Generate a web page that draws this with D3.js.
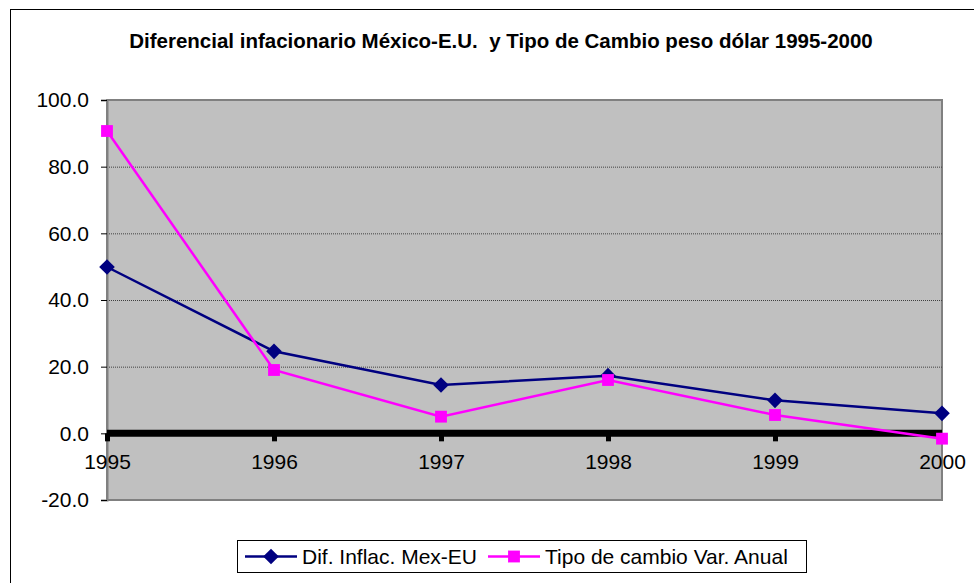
<!DOCTYPE html>
<html>
<head>
<meta charset="utf-8">
<script src="https://cdn.jsdelivr.net/npm/d3@7"></script>
<style>
  body { margin: 0; background: #fff; }
  text { font-family: "Liberation Sans", Arial, sans-serif; white-space: pre; }
</style>
</head>
<body>
<svg id="chart" width="974" height="583"></svg>
<script>
let years = ["1995", "1996", "1997", "1998", "1999", "2000"];
let difInflac = [49.9, 24.6, 14.5, 17.3, 9.9, 6.0];
let tipoCambio = [90.7, 19.0, 5.0, 16.0, 5.5, -1.6];
let yTicks = [-20, 0, 20, 40, 60, 80, 100];

let svg = d3.select("#chart"),
    width = +svg.attr("width"),
    height = +svg.attr("height");

let plot = { left: 107, right: 942, top: 100, bottom: 500 };

// outer frame, cut off on the right and bottom like the original
svg.append("rect")
    .attr("x", 10.5).attr("y", 9.5)
    .attr("width", 1000).attr("height", 600)
    .attr("fill", "#fff").attr("stroke", "#000").attr("stroke-width", 1);

svg.append("text")
    .attr("x", 501).attr("y", 48)
    .attr("text-anchor", "middle")
    .attr("font-size", 20.5).attr("font-weight", "bold")
    .text("Diferencial infacionario México-E.U.  y Tipo de Cambio peso dólar 1995-2000");

let x = d3.scalePoint().domain(years).range([plot.left, plot.right]);
let y = d3.scaleLinear().domain([-20, 100]).range([plot.bottom, plot.top]);

svg.append("rect")
    .attr("x", plot.left).attr("y", plot.top)
    .attr("width", plot.right - plot.left).attr("height", plot.bottom - plot.top)
    .attr("fill", "#c0c0c0").attr("stroke", "#808080").attr("stroke-width", 2);

// dotted gridlines
svg.append("g").selectAll("line")
  .data(yTicks.filter(function(d) { return d !== -20 && d !== 0 && d !== 100; }))
  .enter().append("line")
    .attr("x1", plot.left).attr("x2", plot.right)
    .attr("y1", function(d) { return y(d) + 0.5; })
    .attr("y2", function(d) { return y(d) + 0.5; })
    .attr("stroke", "#404040").attr("stroke-width", 1)
    .attr("stroke-dasharray", "1,1");

// y axis (plain hyphen for negatives, like the original)
let yAxis = svg.append("g")
    .attr("transform", "translate(" + plot.left + ",0)")
    .call(d3.axisLeft(y).tickValues(yTicks)
      .tickFormat(function(d) { return d.toFixed(1); })
      .tickSize(6).tickPadding(12));
yAxis.select(".domain").attr("stroke", "#808080").attr("stroke-width", 2);
yAxis.selectAll(".tick line").attr("stroke", "#000");
yAxis.selectAll(".tick text").attr("font-size", 21).attr("fill", "#000")
    .attr("font-family", "'Liberation Sans', Arial, sans-serif");

// zero line with x axis
let xAxis = svg.append("g")
    .attr("transform", "translate(0," + y(0) + ")")
    .call(d3.axisBottom(x).tickSize(8).tickPadding(13));
xAxis.select(".domain").remove();
xAxis.selectAll(".tick line").attr("stroke", "#000").attr("stroke-width", 5);
xAxis.selectAll(".tick text").attr("font-size", 21).attr("fill", "#000")
    .attr("font-family", "'Liberation Sans', Arial, sans-serif");
svg.append("line")
    .attr("x1", plot.left).attr("x2", plot.right)
    .attr("y1", y(0)).attr("y2", y(0))
    .attr("stroke", "#000").attr("stroke-width", 7);

let series = [
  { name: "Dif. Inflac. Mex-EU", values: difInflac, color: "#000080", shape: d3.symbolDiamond2, size: 155 },
  { name: "Tipo de cambio Var. Anual", values: tipoCambio, color: "#ff00ff", shape: d3.symbolSquare, size: 140 }
];

let line = d3.line()
    .x(function(d, i) { return x(years[i]); })
    .y(function(d) { return y(d); });

series.forEach(function(s) {
  svg.append("path")
      .datum(s.values)
      .attr("d", line)
      .attr("fill", "none").attr("stroke", s.color).attr("stroke-width", 2.5);
  svg.append("g").selectAll("path")
    .data(s.values)
    .enter().append("path")
      .attr("d", d3.symbol().type(s.shape).size(s.size))
      .attr("transform", function(d, i) { return "translate(" + x(years[i]) + "," + y(d) + ")"; })
      .attr("fill", s.color).attr("stroke", "none");
});

// legend
let legend = svg.append("g");
legend.append("rect")
    .attr("x", 237.5).attr("y", 540.5).attr("width", 569).attr("height", 32)
    .attr("fill", "#fff").attr("stroke", "#000").attr("stroke-width", 1);
let legendX = [245, 488];
series.forEach(function(s, i) {
  let g = legend.append("g").attr("transform", "translate(" + legendX[i] + ",556.5)");
  g.append("line").attr("x1", 0).attr("x2", 52).attr("y1", 0).attr("y2", 0)
      .attr("stroke", s.color).attr("stroke-width", 2.5);
  g.append("path").attr("d", d3.symbol().type(s.shape).size(s.size))
      .attr("transform", "translate(26,0)").attr("fill", s.color);
  g.append("text").attr("x", 57).attr("y", 7.5).attr("font-size", 21).text(s.name);
});
</script>
</body>
</html>
